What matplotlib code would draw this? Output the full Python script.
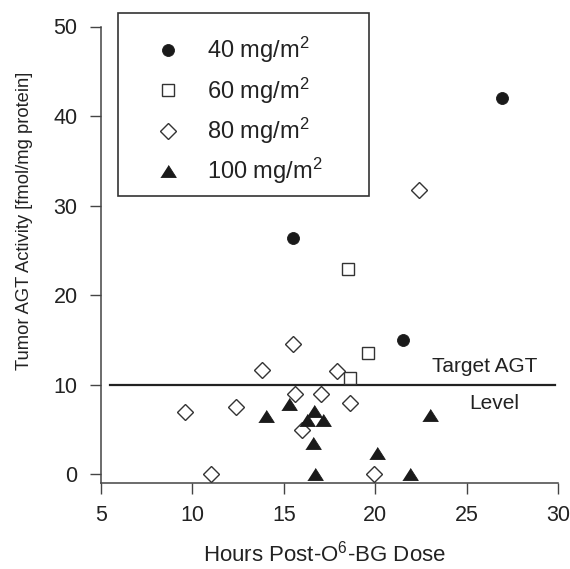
import matplotlib
matplotlib.use("Agg")
import matplotlib.pyplot as plt
from matplotlib.patches import Rectangle

plt.rcParams['font.family'] = ['Liberation Sans', 'DejaVu Sans']
plt.rcParams['mathtext.fontset'] = 'custom'
plt.rcParams['mathtext.rm'] = 'Liberation Sans'
plt.rcParams['mathtext.it'] = 'Liberation Sans:italic'
plt.rcParams['mathtext.bf'] = 'Liberation Sans:bold'

# ---- data ----
dose_labels = ['40 mg/m$^2$', '60 mg/m$^2$', '80 mg/m$^2$', '100 mg/m$^2$']

x40 = [15.5, 21.5, 26.9]
y40 = [26.4, 15.0, 42.0]

x60 = [18.5, 19.6, 18.6]
y60 = [22.9, 13.5, 10.8]

x80 = [22.4, 15.5, 13.8, 17.9, 15.6, 17.0, 18.6, 9.6, 12.4, 16.0, 11.0, 19.9]
y80 = [31.7, 14.5, 11.7, 11.5, 9.0, 9.0, 8.0, 7.0, 7.5, 5.0, 0.0, 0.0]

x100 = [15.3, 14.0, 16.65, 16.25, 17.15, 16.6, 20.1, 16.7, 21.9, 23.0]
y100 = [7.9, 6.5, 7.1, 6.05, 6.05, 3.45, 2.35, 0.0, 0.0, 6.6]

target_x = [5.5, 29.8]
target_level = 10

xticks = [5, 10, 15, 20, 25, 30]
yticks = [0, 10, 20, 30, 40, 50]

# ---- figure ----
W, H = 570, 569
fig = plt.figure(figsize=(W / 100, H / 100), dpi=100)
left, right, top, bottom = 101, 558.3, 26.5, 483.3
ax = fig.add_axes([left / W, (H - bottom) / H, (right - left) / W, (bottom - top) / H])

ink = '#1a1a1a'
edge = '#333333'
txt = '#222222'
tri = [(-1, -0.78), (1, -0.78), (0, 0.78)]

ax.plot(x40, y40, ls='none', marker='o', ms=8.6, mfc=ink, mec=ink, mew=0.6,
        clip_on=False, label=dose_labels[0], zorder=3)
ax.plot(x60, y60, ls='none', marker='s', ms=8.2, mfc='white', mec=edge, mew=1.0,
        clip_on=False, label=dose_labels[1], zorder=3)
ax.plot(x80, y80, ls='none', marker='D', ms=7.9, mfc='white', mec=edge, mew=1.0,
        clip_on=False, label=dose_labels[2], zorder=3)
ax.plot(x100, y100, ls='none', marker=tri, ms=11.2, mfc=ink, mec=ink, mew=0.6,
        clip_on=False, label=dose_labels[3], zorder=3)

ax.plot(target_x, [target_level, target_level], color=txt, lw=1.6, zorder=2)
ax.text(26.0, 12.0, 'Target AGT', ha='center', va='center', fontsize=15, color=txt)
ax.text(26.5, 7.95, 'Level', ha='center', va='center', fontsize=15, color=txt)

ax.set_xlim(5, 30)
ax.set_ylim(-1, 50)
ax.set_xticks(xticks)
ax.set_yticks(yticks)
for s in ['top', 'right']:
    ax.spines[s].set_visible(False)
for s in ['left', 'bottom']:
    ax.spines[s].set_color('#444444')
    ax.spines[s].set_linewidth(1.1)
ax.tick_params(direction='out', length=7.8, width=1.0, color='#444444',
               labelsize=15.5, labelcolor=txt)
ax.tick_params(axis='y', pad=9)
ax.tick_params(axis='x', pad=8)

ax.set_xlabel('Hours Post-O$^6$-BG Dose', fontsize=16, color=txt)
ax.set_ylabel('Tumor AGT Activity [fmol/mg protein]', fontsize=13.2, color=txt)
ax.xaxis.set_label_coords(0.489, -0.153)
ax.yaxis.set_label_coords(-0.168, 0.574)
ax.xaxis.label.set_va('center')
ax.yaxis.label.set_va('center')

# legend (frameless) + box
leg = ax.legend(loc='upper left', bbox_to_anchor=(149 / W, (H - 35) / H),
                bbox_transform=fig.transFigure, frameon=False, fontsize=17,
                borderpad=0, borderaxespad=0, handlelength=1.6,
                handletextpad=0.85, labelspacing=0.43, numpoints=1)
for t in leg.get_texts():
    t.set_color(txt)
fig.patches.append(Rectangle((118 / W, (H - 196) / H), (369 - 118) / W, (196 - 13) / H,
                             transform=fig.transFigure, fill=False,
                             ec='#333333', lw=1.2, figure=fig))

fig.savefig('out.png', dpi=100)
